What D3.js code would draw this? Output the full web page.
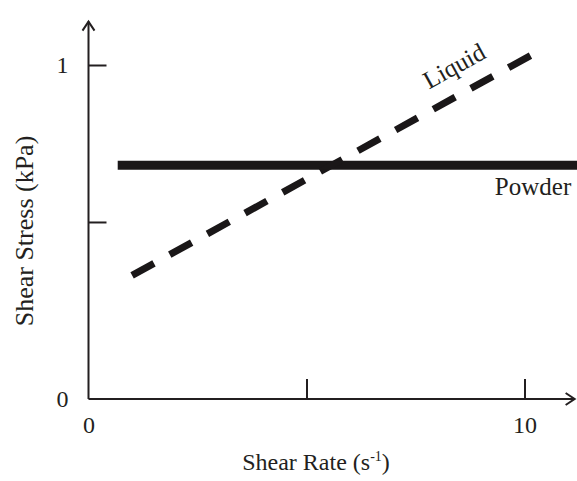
<!DOCTYPE html>
<html>
<head>
<meta charset="utf-8">
<script src="https://cdn.jsdelivr.net/npm/d3@7"></script>
<style>
  html, body { margin: 0; padding: 0; background: #fff; }
  svg { display: block; }
  text { font-family: "Liberation Serif", "Times New Roman", serif; fill: #231f20; }
</style>
</head>
<body>
<svg id="chart" width="577" height="481"></svg>
<script>
// Flow curves: shear stress vs shear rate
const xTickValues = [0, 5, 10];
const xTickLabels = ["0", "", "10"];
const yTickValues = [0, 0.53, 1];
const yTickLabels = ["0", "", "1"];

// Newtonian liquid (dashed) and powder (flat yield stress)
const liquidRate = [1.0, 10.3];
const liquidStress = [0.37, 1.04];
const powderRate = [0.67, 11.6];
const powderStress = [0.70, 0.70];

const xAxisMax = 11.15;
const yAxisMax = 1.13;

const svg = d3.select("#chart");
const ink = "#231f20";

const x = d3.scaleLinear().domain([0, 10]).range([88.5, 524.5]);
const y = d3.scaleLinear().domain([0, 1]).range([399, 65]);

// Axis lines with open arrowheads
const axisG = svg.append("g").attr("stroke", ink).attr("stroke-width", 2).attr("fill", "none");
axisG.append("line")
  .attr("x1", x(0)).attr("y1", y(0)).attr("x2", x(xAxisMax)).attr("y2", y(0));
axisG.append("line")
  .attr("x1", x(0)).attr("y1", y(0)).attr("x2", x(0)).attr("y2", y(yAxisMax));
axisG.append("path")
  .attr("d", `M${x(xAxisMax) - 9},${y(0) - 6} L${x(xAxisMax)},${y(0)} L${x(xAxisMax) - 9},${y(0) + 6}`);
axisG.append("path")
  .attr("d", `M${x(0) - 6},${y(yAxisMax) + 9} L${x(0)},${y(yAxisMax)} L${x(0) + 6},${y(yAxisMax) + 9}`);

// Inward ticks via d3 axes
const xAxis = d3.axisBottom(x)
  .tickValues(xTickValues)
  .tickSizeInner(-20).tickSizeOuter(0).tickPadding(28)
  .tickFormat((d, i) => xTickLabels[i]);
const gx = svg.append("g").attr("transform", `translate(0,${y(0)})`).call(xAxis);
gx.select(".domain").remove();
gx.selectAll(".tick line").attr("stroke", ink).attr("stroke-width", 2);
gx.selectAll(".tick text")
  .attr("font-size", 24).attr("font-family", "Liberation Serif, serif").attr("fill", ink)
  .attr("dy", 0).attr("y", 34);

const yAxis = d3.axisLeft(y)
  .tickValues(yTickValues)
  .tickSizeInner(-18).tickSizeOuter(0).tickPadding(20)
  .tickFormat((d, i) => yTickLabels[i]);
const gy = svg.append("g").attr("transform", `translate(${x(0)},0)`).call(yAxis);
gy.select(".domain").remove();
gy.selectAll(".tick line").attr("stroke", ink).attr("stroke-width", 2);
gy.selectAll(".tick text")
  .attr("font-size", 24).attr("font-family", "Liberation Serif, serif").attr("fill", ink)
  .attr("text-anchor", "middle").attr("x", -26).attr("dy", "0.3em");
gx.selectAll(".tick").filter(d => d === 0).select("line").remove();
gy.selectAll(".tick").filter(d => d === 0).select("line").remove();

// Powder line (solid, heavy)
const line = d3.line().x(d => x(d[0])).y(d => y(d[1]));
svg.append("path")
  .datum(d3.zip(powderRate, powderStress))
  .attr("d", line)
  .attr("fill", "none").attr("stroke", "#1a1718").attr("stroke-width", 9);

// Liquid line (dashed)
svg.append("path")
  .datum(d3.zip(liquidRate, liquidStress))
  .attr("d", line)
  .attr("fill", "none").attr("stroke", "#1a1718").attr("stroke-width", 7)
  .attr("stroke-dasharray", "25,18");

// Line labels
const dx = x(liquidRate[1]) - x(liquidRate[0]);
const dy = y(liquidStress[1]) - y(liquidStress[0]);
const angle = Math.atan2(dy, dx) * 180 / Math.PI;
svg.append("text")
  .attr("transform", `translate(${x(8.48)},${y(0.975)}) rotate(${angle})`)
  .attr("text-anchor", "middle")
  .attr("font-size", 25)
  .text("Liquid");

svg.append("text")
  .attr("x", x(9.32)).attr("y", 195)
  .attr("font-size", 25)
  .text("Powder");

// Axis titles
svg.append("text")
  .attr("x", 316).attr("y", 470)
  .attr("text-anchor", "middle")
  .attr("font-size", 24)
  .html('Shear Rate (s<tspan font-size="14" dy="-9">-1</tspan><tspan dy="9">)</tspan>');

svg.append("text")
  .attr("transform", "translate(33,231) rotate(-90)")
  .attr("text-anchor", "middle")
  .attr("font-size", 26)
  .text("Shear Stress (kPa)");
</script>
</body>
</html>
